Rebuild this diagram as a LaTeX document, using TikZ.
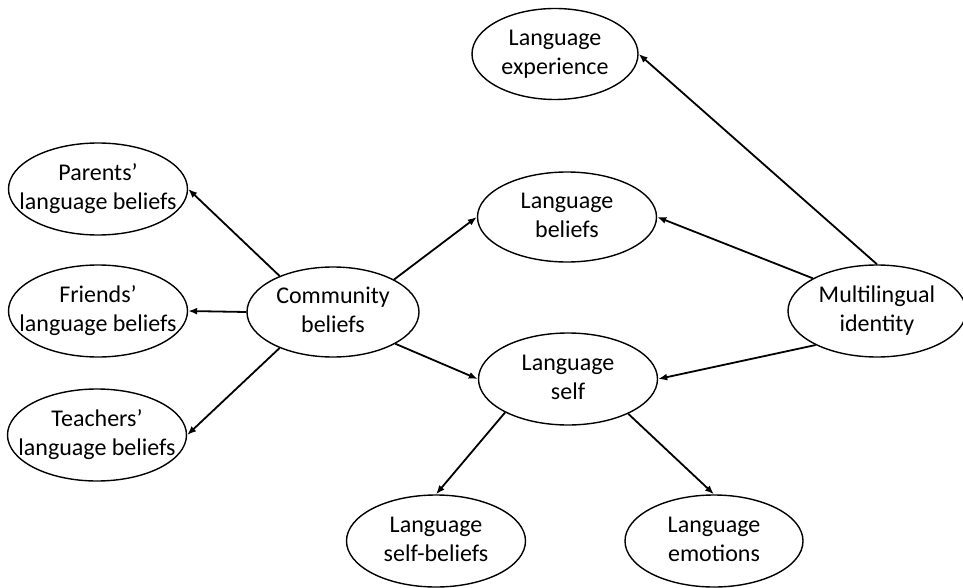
\documentclass[tikz,border=0pt]{standalone}
\usepackage{fontspec}
\setmainfont{Carlito}
\usetikzlibrary{shapes.geometric,arrows.meta}
\newcommand{\twolines}[2]{\makebox[0pt]{\begin{tabular}{@{}c@{}}#1\\#2\end{tabular}}}
\begin{document}
\begin{tikzpicture}[x=1pt,y=-1pt,
  el/.style={draw, ellipse, line width=1.4pt, inner sep=0pt,
    minimum width=179pt, minimum height=92pt,
    font=\fontsize{24}{29}\selectfont},
  arr/.style={-{Latex[length=9pt,width=7pt]}, line width=1.8pt}]
\useasboundingbox (0,0) rectangle (963,588);

\node[el, minimum width=166pt, minimum height=91pt] (exp) at (555,54) {\twolines{Language}{experience}};
\node[el] (par) at (98,189) {\twolines{Parents'}{language beliefs}};
\node[el] (fri) at (98,311) {\twolines{Friends'}{language beliefs}};
\node[el] (tea) at (97,435) {\twolines{Teachers'}{language beliefs}};
\node[el, minimum width=172pt, minimum height=90pt] (comm) at (333,312) {\twolines{Community}{beliefs}};
\node[el, minimum height=90pt] (lb) at (567,217) {\twolines{Language}{beliefs}};
\node[el] (ls) at (568,379) {\twolines{Language}{self}};
\node[el, minimum width=178pt] (mi) at (877,311) {\twolines{Multilingual}{identity}};
\node[el] (lsb) at (436,541) {\twolines{Language}{self-beliefs}};
\node[el, minimum width=178pt] (em) at (714,541) {\twolines{Language}{emotions}};

\draw[arr] (comm.146) -- (par.east);
\draw[arr] (comm.west) -- (fri.east);
\draw[arr] (comm.214) -- (tea.east);
\draw[arr] (comm.28) -- (lb.west);
\draw[arr] (comm.333) -- (ls.west);
\draw[arr] (mi.north) -- (exp.east);
\draw[arr] (mi.153) -- (lb.east);
\draw[arr] (mi.209) -- (ls.east);
\draw[arr] (ls.208) -- (lsb.north);
\draw[arr] (ls.330) -- (em.north);
\end{tikzpicture}
\end{document}
